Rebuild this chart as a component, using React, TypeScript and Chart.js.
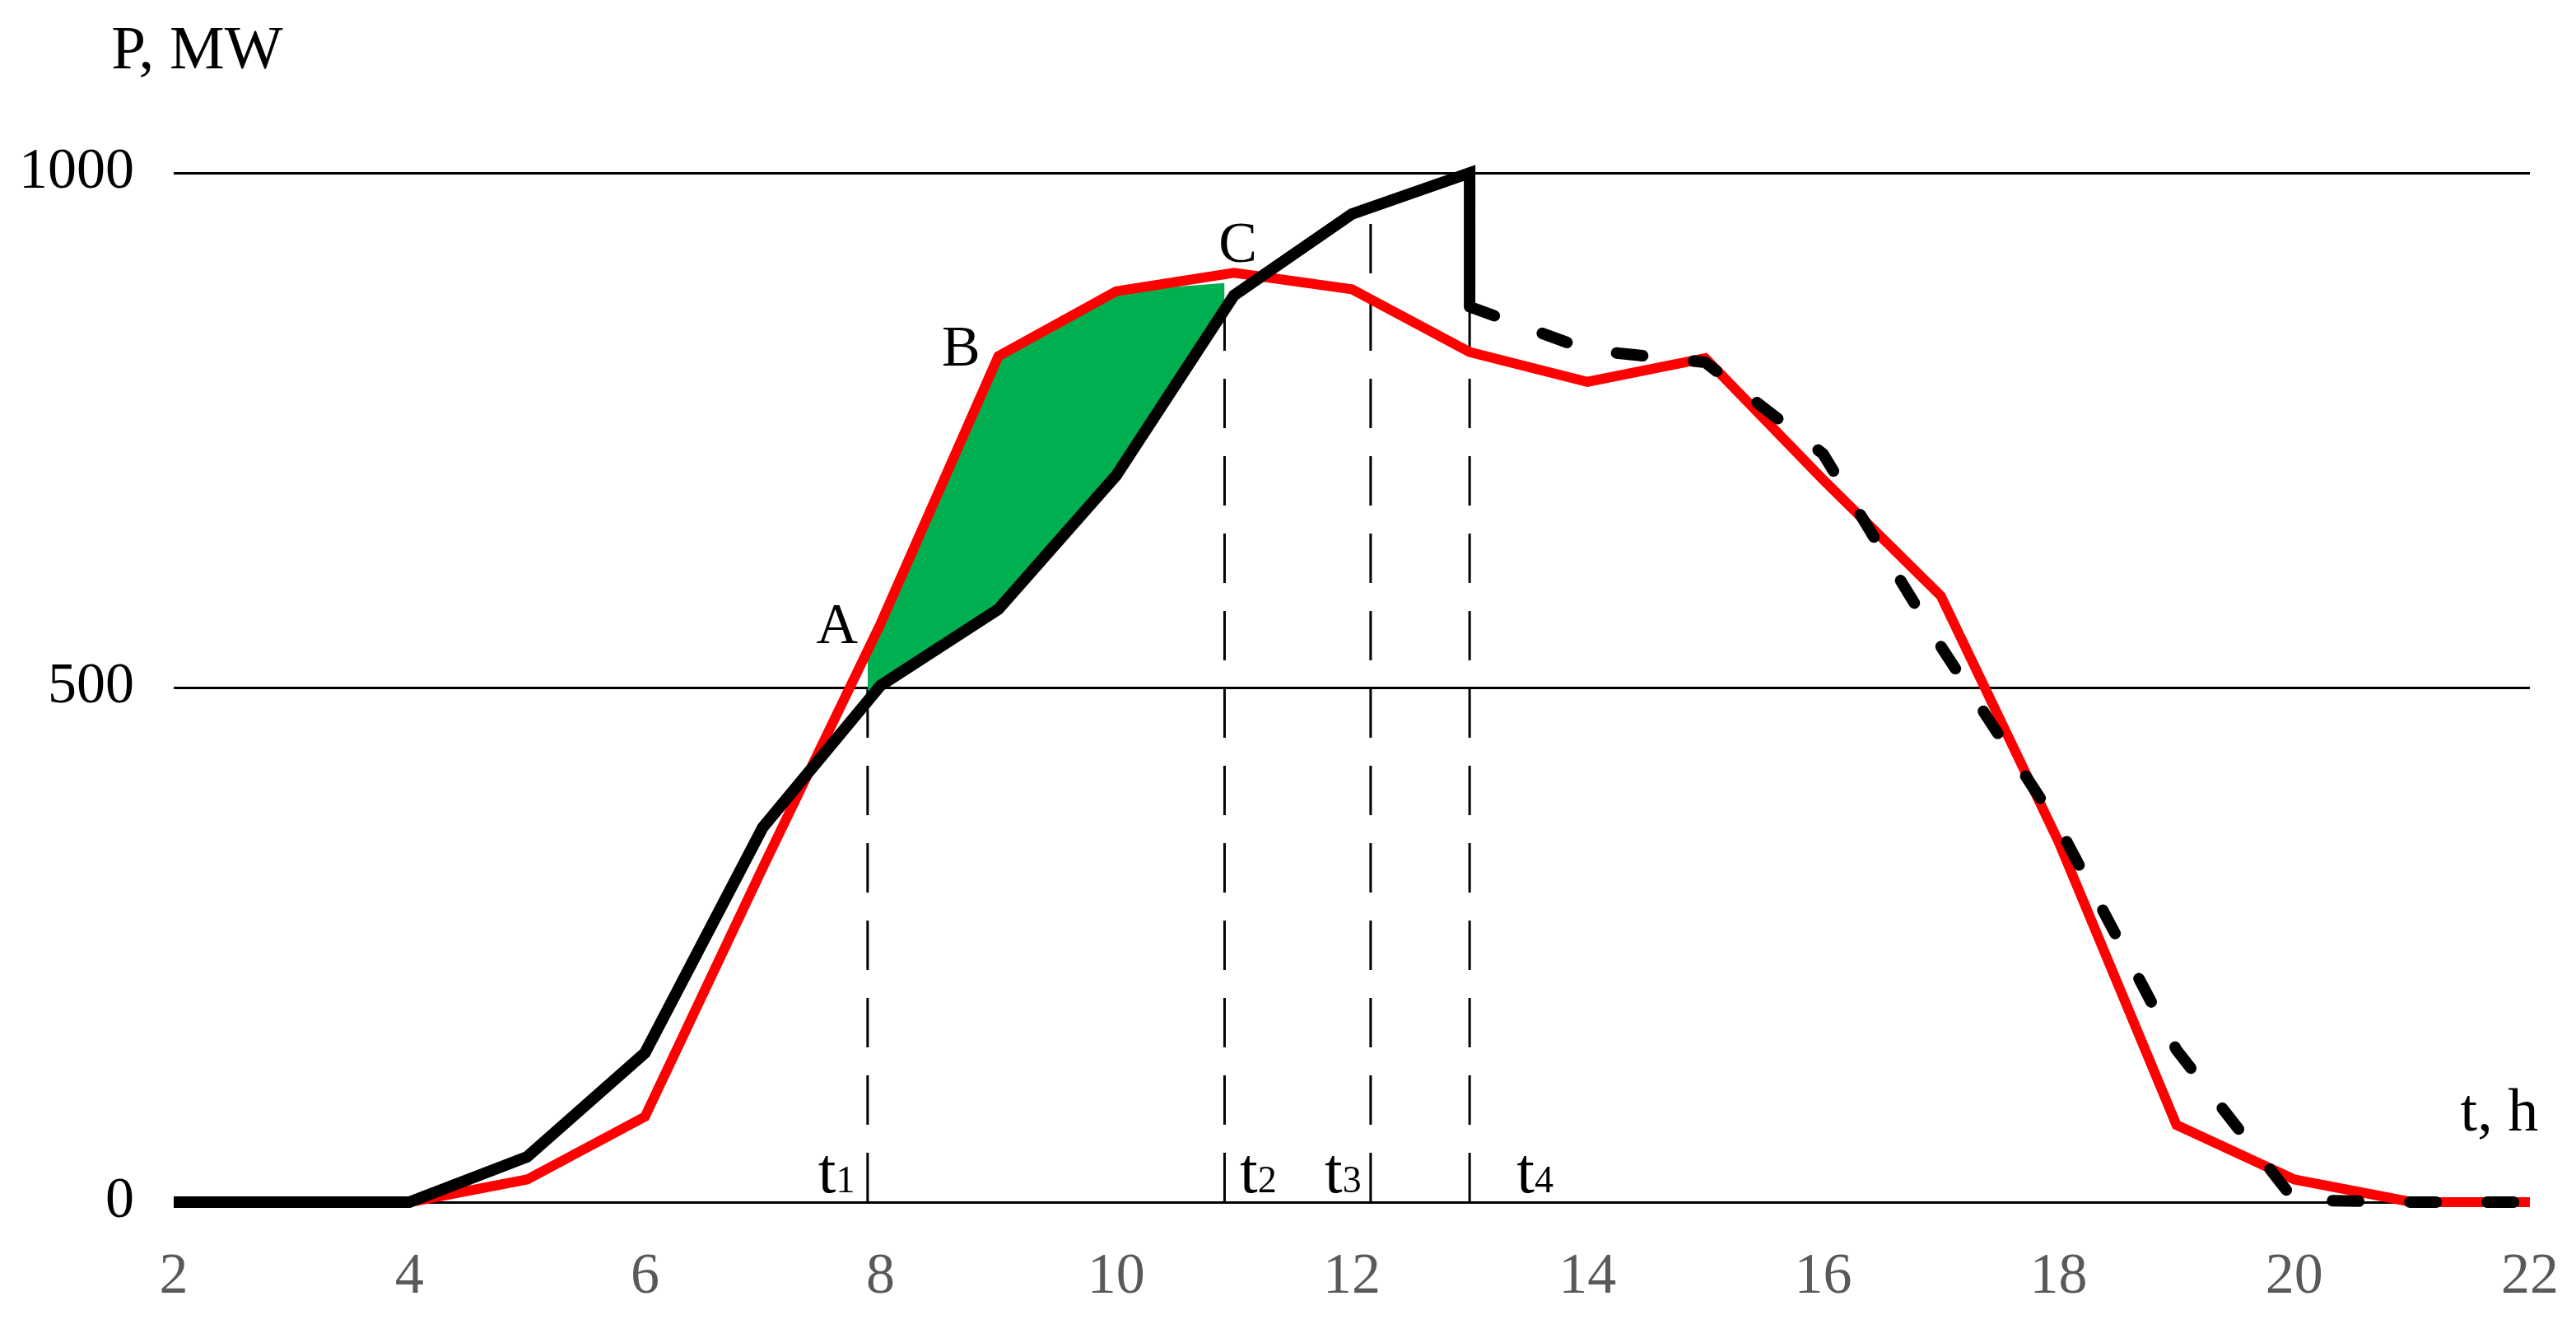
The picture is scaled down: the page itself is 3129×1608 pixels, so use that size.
import React, { useEffect, useRef } from 'react';
import { Chart, registerables } from 'chart.js';

Chart.register(...registerables);

// ---- data (hours, MW) ----
const redHours = [4, 5, 6, 7, 8, 9, 10, 11, 12, 13, 14, 15, 16, 17, 18, 19, 20, 21, 22];
const redValues = [0, 22, 83, 325, 562, 822, 885, 903, 887, 826, 797, 820, 702, 589, 350, 75, 22, 0, 0];

const blackSolidHours = [2, 3, 4, 5, 6, 7, 8, 9, 10, 11, 12, 13, 13];
const blackSolidValues = [0, 0, 0, 44, 145, 364, 502, 576, 706, 881, 960, 1000, 870];

const blackDashedHours = [13, 14, 15, 16, 17, 18, 19, 20, 21, 22];
const blackDashedValues = [870, 828, 816, 727, 540, 365, 148, 2, 0, 0];

const greenHours = [7.89, 8, 9, 10, 10.92];
const greenTopValues = [530, 562, 822, 885, 893];
const greenBottomValues = [497, 502, 576, 706, 866];

const markerHours = [7.89, 10.92, 12.16, 13.0];
const markerTops = [530, 893, 958, 870];
const markerSubs = ['1', '2', '3', '4'];

const xTicks = [2, 4, 6, 8, 10, 12, 14, 16, 18, 20, 22];
const yTicks = [0, 500, 1000];

// annotation anchors in data units (hours, MW)
const letterLabels = [
  { text: 'A', x: 7.454, y: 543 },
  { text: 'B', x: 8.52, y: 813 },
  { text: 'C', x: 10.87, y: 914 },
];
const markerLabelX = [7.47, 11.05, 11.77, 13.4];
const markerLabelY = 10;

const FONT = '"Liberation Serif", "Times New Roman", serif';

const pts = (xs: number[], ys: number[]) => xs.map((x, i) => ({ x, y: ys[i] }));

const textPlugin = {
  id: 'textAnnotations',
  afterDatasetsDraw(chart: any) {
    const { ctx, scales } = chart;
    const xs = scales.x;
    const ys = scales.y;
    ctx.save();
    ctx.fillStyle = '#000';
    ctx.textAlign = 'left';
    ctx.textBaseline = 'alphabetic';

    ctx.font = `75px ${FONT}`;
    ctx.fillText('P, MW', xs.getPixelForValue(1.47), ys.getPixelForValue(1102));

    ctx.font = `74px ${FONT}`;
    ctx.fillText('t, h', xs.getPixelForValue(21.41), ys.getPixelForValue(70));

    ctx.font = `70px ${FONT}`;
    letterLabels.forEach((l) => {
      ctx.fillText(l.text, xs.getPixelForValue(l.x), ys.getPixelForValue(l.y));
    });

    markerLabelX.forEach((mx, i) => {
      const px = xs.getPixelForValue(mx);
      const py = ys.getPixelForValue(markerLabelY);
      ctx.font = `78px ${FONT}`;
      ctx.fillText('t', px, py);
      const w = ctx.measureText('t').width;
      ctx.font = `46px ${FONT}`;
      ctx.fillText(markerSubs[i], px + w, py);
    });
    ctx.restore();
  },
};

export default function App() {
  const ref = useRef<HTMLCanvasElement>(null);

  useEffect(() => {
    if (!ref.current) return;

    const markerSets = markerHours.map((h, i) => ({
      label: 't' + markerSubs[i],
      data: [
        { x: h, y: 0 },
        { x: h, y: markerTops[i] },
      ],
      borderColor: '#000',
      borderWidth: 3,
      borderDash: [60, 34],
      pointRadius: 0,
      fill: false,
      clip: false as any,
      order: 10,
    }));

    const chart = new Chart(ref.current, {
      type: 'line',
      data: {
        datasets: [
          {
            label: 'black',
            data: pts(blackSolidHours, blackSolidValues),
            borderColor: '#000',
            borderWidth: 14,
            borderJoinStyle: 'miter',
            borderCapStyle: 'butt',
            pointRadius: 0,
            fill: false,
            clip: false as any,
            order: 0,
          },
          {
            label: 'blackDashed',
            data: pts(blackDashedHours, blackDashedValues),
            borderColor: '#000',
            borderWidth: 14,
            borderDash: [32, 62],
            borderCapStyle: 'round',
            borderJoinStyle: 'round',
            pointRadius: 0,
            fill: false,
            clip: false as any,
            order: 1,
          },
          {
            label: 'red',
            data: pts(redHours, redValues),
            borderColor: '#FF0000',
            borderWidth: 12,
            borderJoinStyle: 'miter',
            pointRadius: 0,
            fill: false,
            clip: false as any,
            order: 2,
          },
          {
            label: 'greenBottom',
            data: pts(greenHours, greenBottomValues),
            borderColor: 'rgba(0,0,0,0)',
            borderWidth: 0,
            pointRadius: 0,
            fill: false,
            clip: false as any,
            order: 5,
          },
          {
            label: 'greenTop',
            data: pts(greenHours, greenTopValues),
            borderColor: 'rgba(0,0,0,0)',
            backgroundColor: '#00B050',
            borderWidth: 0,
            pointRadius: 0,
            fill: 3,
            clip: false as any,
            order: 4,
          },
          ...markerSets,
        ],
      },
      options: {
        animation: false,
        responsive: false,
        devicePixelRatio: 1,
        layout: { padding: { top: 210, right: 56, bottom: 0, left: 0 } },
        plugins: {
          legend: { display: false },
          tooltip: { enabled: false },
          title: { display: false },
        },
        elements: { line: { tension: 0 }, point: { radius: 0 } },
        scales: {
          x: {
            type: 'linear',
            min: 2,
            max: 22,
            afterBuildTicks: (s: any) => {
              s.ticks = xTicks.map((v) => ({ value: v }));
            },
            grid: { display: false, drawTicks: true, tickLength: 50 },
            border: { display: false },
            ticks: {
              color: '#595959',
              font: { family: FONT, size: 70 },
              padding: 0,
              maxRotation: 0,
              autoSkip: false,
              callback: (v: any) => String(v),
            },
            afterFit: (s: any) => {
              s.height = 148;
            },
          },
          y: {
            type: 'linear',
            min: 0,
            max: 1000,
            afterBuildTicks: (s: any) => {
              s.ticks = yTicks.map((v) => ({ value: v }));
            },
            grid: { color: '#000', lineWidth: 3, drawTicks: false, tickLength: 0 },
            border: { display: false },
            ticks: {
              color: '#000',
              font: { family: FONT, size: 70 },
              padding: 48,
              callback: (v: any) => String(v),
            },
            afterFit: (s: any) => {
              s.width = 211;
            },
          },
        },
      } as any,
      plugins: [textPlugin],
    } as any);

    return () => chart.destroy();
  }, []);

  return (
    <div style={{ position: 'absolute', left: 0, top: 0, width: 3129, height: 1608, background: '#fff' }}>
      <canvas ref={ref} width={3129} height={1608} style={{ display: 'block', width: 3129, height: 1608 }} />
    </div>
  );
}
